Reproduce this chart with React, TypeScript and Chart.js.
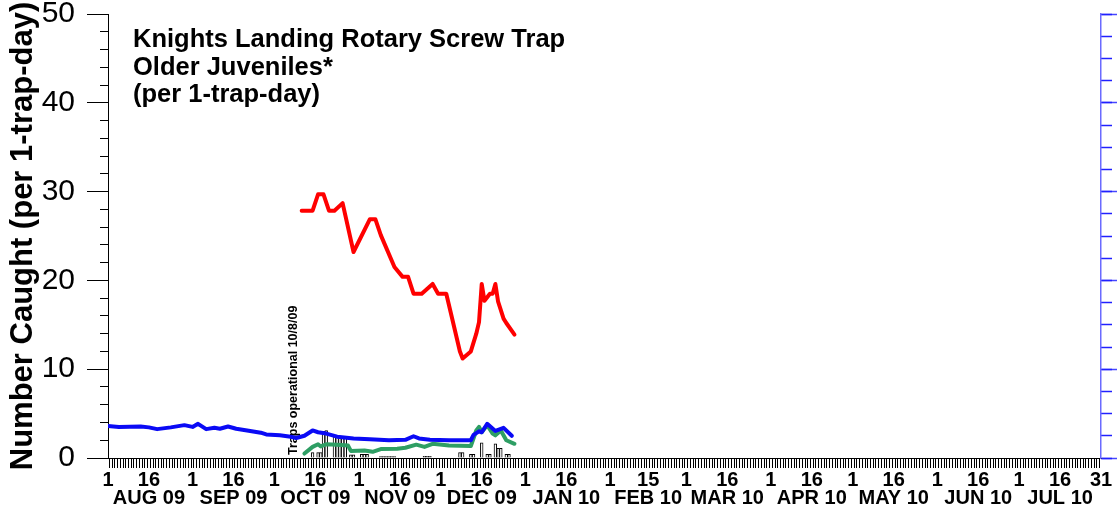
import React, { useEffect, useRef } from 'react';
import { Chart, registerables } from 'chart.js';

Chart.register(...registerables);

const FONT = '"Liberation Sans", Arial, Helvetica, sans-serif';

const titleLines = ['Knights Landing Rotary Screw Trap', 'Older Juveniles*', '(per 1-trap-day)'];
const yAxisTitle = 'Number Caught (per 1-trap-day)';
const annotationText = 'Traps operational 10/8/09';
const annotationDay = 68; // Oct 8, 2009 (day 0 = Aug 1, 2009)

// x axis: day index from Aug 1 2009 to Jul 31 2010
const xTickDays = [0, 15, 31, 46, 61, 76, 92, 107, 122, 137, 153, 168, 184, 198, 212, 227, 243, 258, 273, 288, 304, 319, 334, 349, 364];
const xTickNumbers = ['1', '16', '1', '16', '1', '16', '1', '16', '1', '16', '1', '16', '1', '15', '1', '16', '1', '16', '1', '16', '1', '16', '1', '16', '31'];
const xTickMonths = ['', 'AUG 09', '', 'SEP 09', '', 'OCT 09', '', 'NOV 09', '', 'DEC 09', '', 'JAN 10', '', 'FEB 10', '', 'MAR 10', '', 'APR 10', '', 'MAY 10', '', 'JUN 10', '', 'JUL 10', ''];

// Red series
const redDays = [71, 75, 77, 79, 81, 83, 86, 90, 96, 98, 100, 105, 108, 110, 112, 115, 119, 121, 124, 126, 129, 130, 133, 135, 136, 137, 138, 140, 141, 142, 143, 145, 146, 149];
const redValues = [27.85, 27.85, 29.7, 29.7, 27.85, 27.85, 28.7, 23.2, 26.9, 26.9, 25.1, 21.5, 20.4, 20.4, 18.5, 18.5, 19.6, 18.5, 18.5, 15.9, 12.0, 11.2, 12.0, 14.0, 15.3, 19.6, 17.7, 18.5, 18.5, 19.6, 17.6, 15.7, 15.2, 13.9];

// Blue series
const blueDays = [0, 4, 12, 15, 18, 23, 28, 31, 33, 36, 39, 41, 44, 47, 51, 56, 58, 63, 67, 69, 72, 75, 77, 80, 84, 90, 96, 103, 109, 112, 114, 118, 125, 133, 134, 136, 137, 139, 142, 145, 148];
const blueValues = [3.6, 3.5, 3.55, 3.45, 3.25, 3.45, 3.7, 3.5, 3.85, 3.25, 3.4, 3.3, 3.55, 3.3, 3.1, 2.85, 2.65, 2.55, 2.4, 2.25, 2.5, 3.1, 2.9, 2.75, 2.4, 2.2, 2.1, 2.0, 2.05, 2.45, 2.2, 2.05, 2.0, 2.0, 2.6, 3.0, 2.9, 3.85, 3.05, 3.4, 2.5];

// Green series
const greenDays = [72, 75, 77, 78, 80, 84, 88, 89, 94, 97, 100, 106, 109, 113, 116, 119, 125, 133, 135, 136, 137, 139, 141, 142, 144, 146, 149];
const greenValues = [0.5, 1.25, 1.55, 1.3, 1.55, 1.5, 1.4, 0.8, 0.85, 0.7, 1.0, 1.05, 1.15, 1.5, 1.25, 1.6, 1.4, 1.35, 3.1, 3.5, 2.9, 3.7, 2.75, 2.55, 3.1, 2.0, 1.6];

// Daily catch bars
const barDays = [75, 77, 78, 79, 80, 83, 84, 85, 86, 87, 89, 90, 93, 94, 95, 100, 101, 102, 103, 104, 105, 116, 117, 118, 129, 130, 133, 134, 137, 139, 140, 142, 143, 144, 146, 147];
const barValues = [0.6, 0.6, 0.6, 3.0, 3.1, 2.5, 2.5, 2.4, 2.3, 2.3, 0.35, 0.35, 0.4, 0.4, 0.4, 0.15, 0.15, 0.15, 0.15, 0.15, 0.15, 0.2, 0.2, 0.2, 0.6, 0.6, 0.4, 0.4, 1.7, 0.4, 0.4, 1.6, 1.1, 1.1, 0.4, 0.4];

const pts = (xs: number[], ys: number[]) => xs.map((x, i) => ({ x, y: ys[i] }));

const textPlugin = {
  id: 'textPlugin',
  beforeDatasetsDraw(chart: any) {
    const { ctx, chartArea, scales } = chart;
    const x = scales.x.getPixelForValue(annotationDay);
    ctx.save();
    ctx.translate(x, chartArea.bottom - 3);
    ctx.rotate(-Math.PI / 2);
    ctx.font = `bold 12.5px ${FONT}`;
    ctx.fillStyle = '#000';
    ctx.textAlign = 'left';
    ctx.textBaseline = 'middle';
    ctx.fillText(annotationText, 0, 0);
    ctx.restore();
  },
  afterDraw(chart: any) {
    const { ctx, chartArea } = chart;
    ctx.save();
    ctx.font = `bold 25.5px ${FONT}`;
    ctx.fillStyle = '#000';
    ctx.textAlign = 'left';
    ctx.textBaseline = 'alphabetic';
    titleLines.forEach((t, i) => ctx.fillText(t, chartArea.left + 25, chartArea.top + 33 + i * 27.5));
    ctx.restore();
  },
};

export default function App() {
  const ref = useRef<HTMLCanvasElement>(null);
  useEffect(() => {
    document.body.style.margin = '0';
    const chart = new Chart(ref.current as HTMLCanvasElement, {
      type: 'line',
      data: {
        datasets: [
          {
            type: 'line',
            data: pts(blueDays, blueValues),
            borderColor: '#0a0af5',
            borderWidth: 4,
            pointRadius: 0,
            tension: 0,
            borderJoinStyle: 'round',
            borderCapStyle: 'round',
            order: 0,
          },
          {
            type: 'line',
            data: pts(greenDays, greenValues),
            borderColor: '#2e9e64',
            borderWidth: 4,
            pointRadius: 0,
            tension: 0,
            borderJoinStyle: 'round',
            borderCapStyle: 'round',
            order: 1,
          },
          {
            type: 'line',
            data: pts(redDays, redValues),
            borderColor: '#ff0000',
            borderWidth: 4,
            pointRadius: 0,
            tension: 0,
            borderJoinStyle: 'round',
            borderCapStyle: 'round',
            order: 0,
          },
          {
            type: 'bar',
            data: pts(barDays, barValues),
            backgroundColor: '#ffffff',
            borderColor: '#000000',
            borderWidth: 1,
            barPercentage: 1,
            categoryPercentage: 1,
            order: 10,
          },
        ] as any,
      },
      options: {
        responsive: false,
        devicePixelRatio: 1,
        animation: false,
        layout: { padding: { top: 14, left: 0, right: 0, bottom: 0 } },
        plugins: { legend: { display: false }, tooltip: { enabled: false }, title: { display: false } },
        scales: {
          x: {
            type: 'linear',
            position: 'bottom',
            min: 0,
            max: 364,
            offset: false,
            grid: { drawOnChartArea: false, tickLength: 10, tickColor: '#000', tickWidth: 1 },
            border: { color: '#000', width: 1 },
            ticks: {
              stepSize: 1,
              autoSkip: false,
              maxRotation: 0,
              minRotation: 0,
              padding: 3,
              color: '#000',
              font: { family: FONT, size: 20, weight: 'bold', lineHeight: 0.9 },
              callback: (value: any) => {
                const i = xTickDays.indexOf(Number(value));
                if (i < 0) return '';
                return xTickMonths[i] ? [xTickNumbers[i], xTickMonths[i]] : xTickNumbers[i];
              },
            },
            afterFit: (s: any) => { s.height = 54; },
          },
          y: {
            type: 'linear',
            position: 'left',
            min: 0,
            max: 50,
            weight: 1,
            grid: { drawOnChartArea: false, tickLength: 21, tickColor: '#000', tickWidth: 1 },
            border: { color: '#000', width: 1 },
            ticks: { stepSize: 10, padding: 12, color: '#000', font: { family: FONT, size: 30, lineHeight: 0.05 } },
            title: {
              display: true,
              text: yAxisTitle,
              color: '#000',
              font: { family: FONT, size: 31, weight: 'bold', lineHeight: 1.2 },
              padding: { top: 5, bottom: 0 },
            },
            afterFit: (s: any) => { s.width = 108; },
          },
          yMinor: {
            type: 'linear',
            position: 'left',
            min: 0,
            max: 50,
            weight: 0,
            grid: { drawOnChartArea: false, tickLength: 8, tickColor: '#000', tickWidth: 1 },
            border: { display: false },
            ticks: { stepSize: 2, display: false },
            afterFit: (s: any) => { s.width = 0; },
          },
          yR: {
            type: 'linear',
            position: 'right',
            min: 0,
            max: 50,
            weight: 1,
            grid: { drawOnChartArea: false, tickLength: 16, tickColor: '#4646ff', tickWidth: 1.5 },
            border: { color: '#6a6aff', width: 1.5 },
            ticks: { stepSize: 10, display: false },
            afterFit: (s: any) => { s.width = 16; },
          },
          yRMinor: {
            type: 'linear',
            position: 'right',
            min: 0,
            max: 50,
            weight: 0,
            grid: { drawOnChartArea: false, tickLength: 11, tickColor: '#2020ff', tickWidth: 1.5 },
            border: { display: false },
            ticks: { stepSize: 2.5, display: false },
            afterFit: (s: any) => { s.width = 0; },
          },
        },
      } as any,
      plugins: [textPlugin],
    });
    return () => chart.destroy();
  }, []);
  return (
    <div style={{ width: 1117, height: 512 }}>
      <canvas ref={ref} width={1117} height={512} style={{ display: 'block' }} />
    </div>
  );
}
